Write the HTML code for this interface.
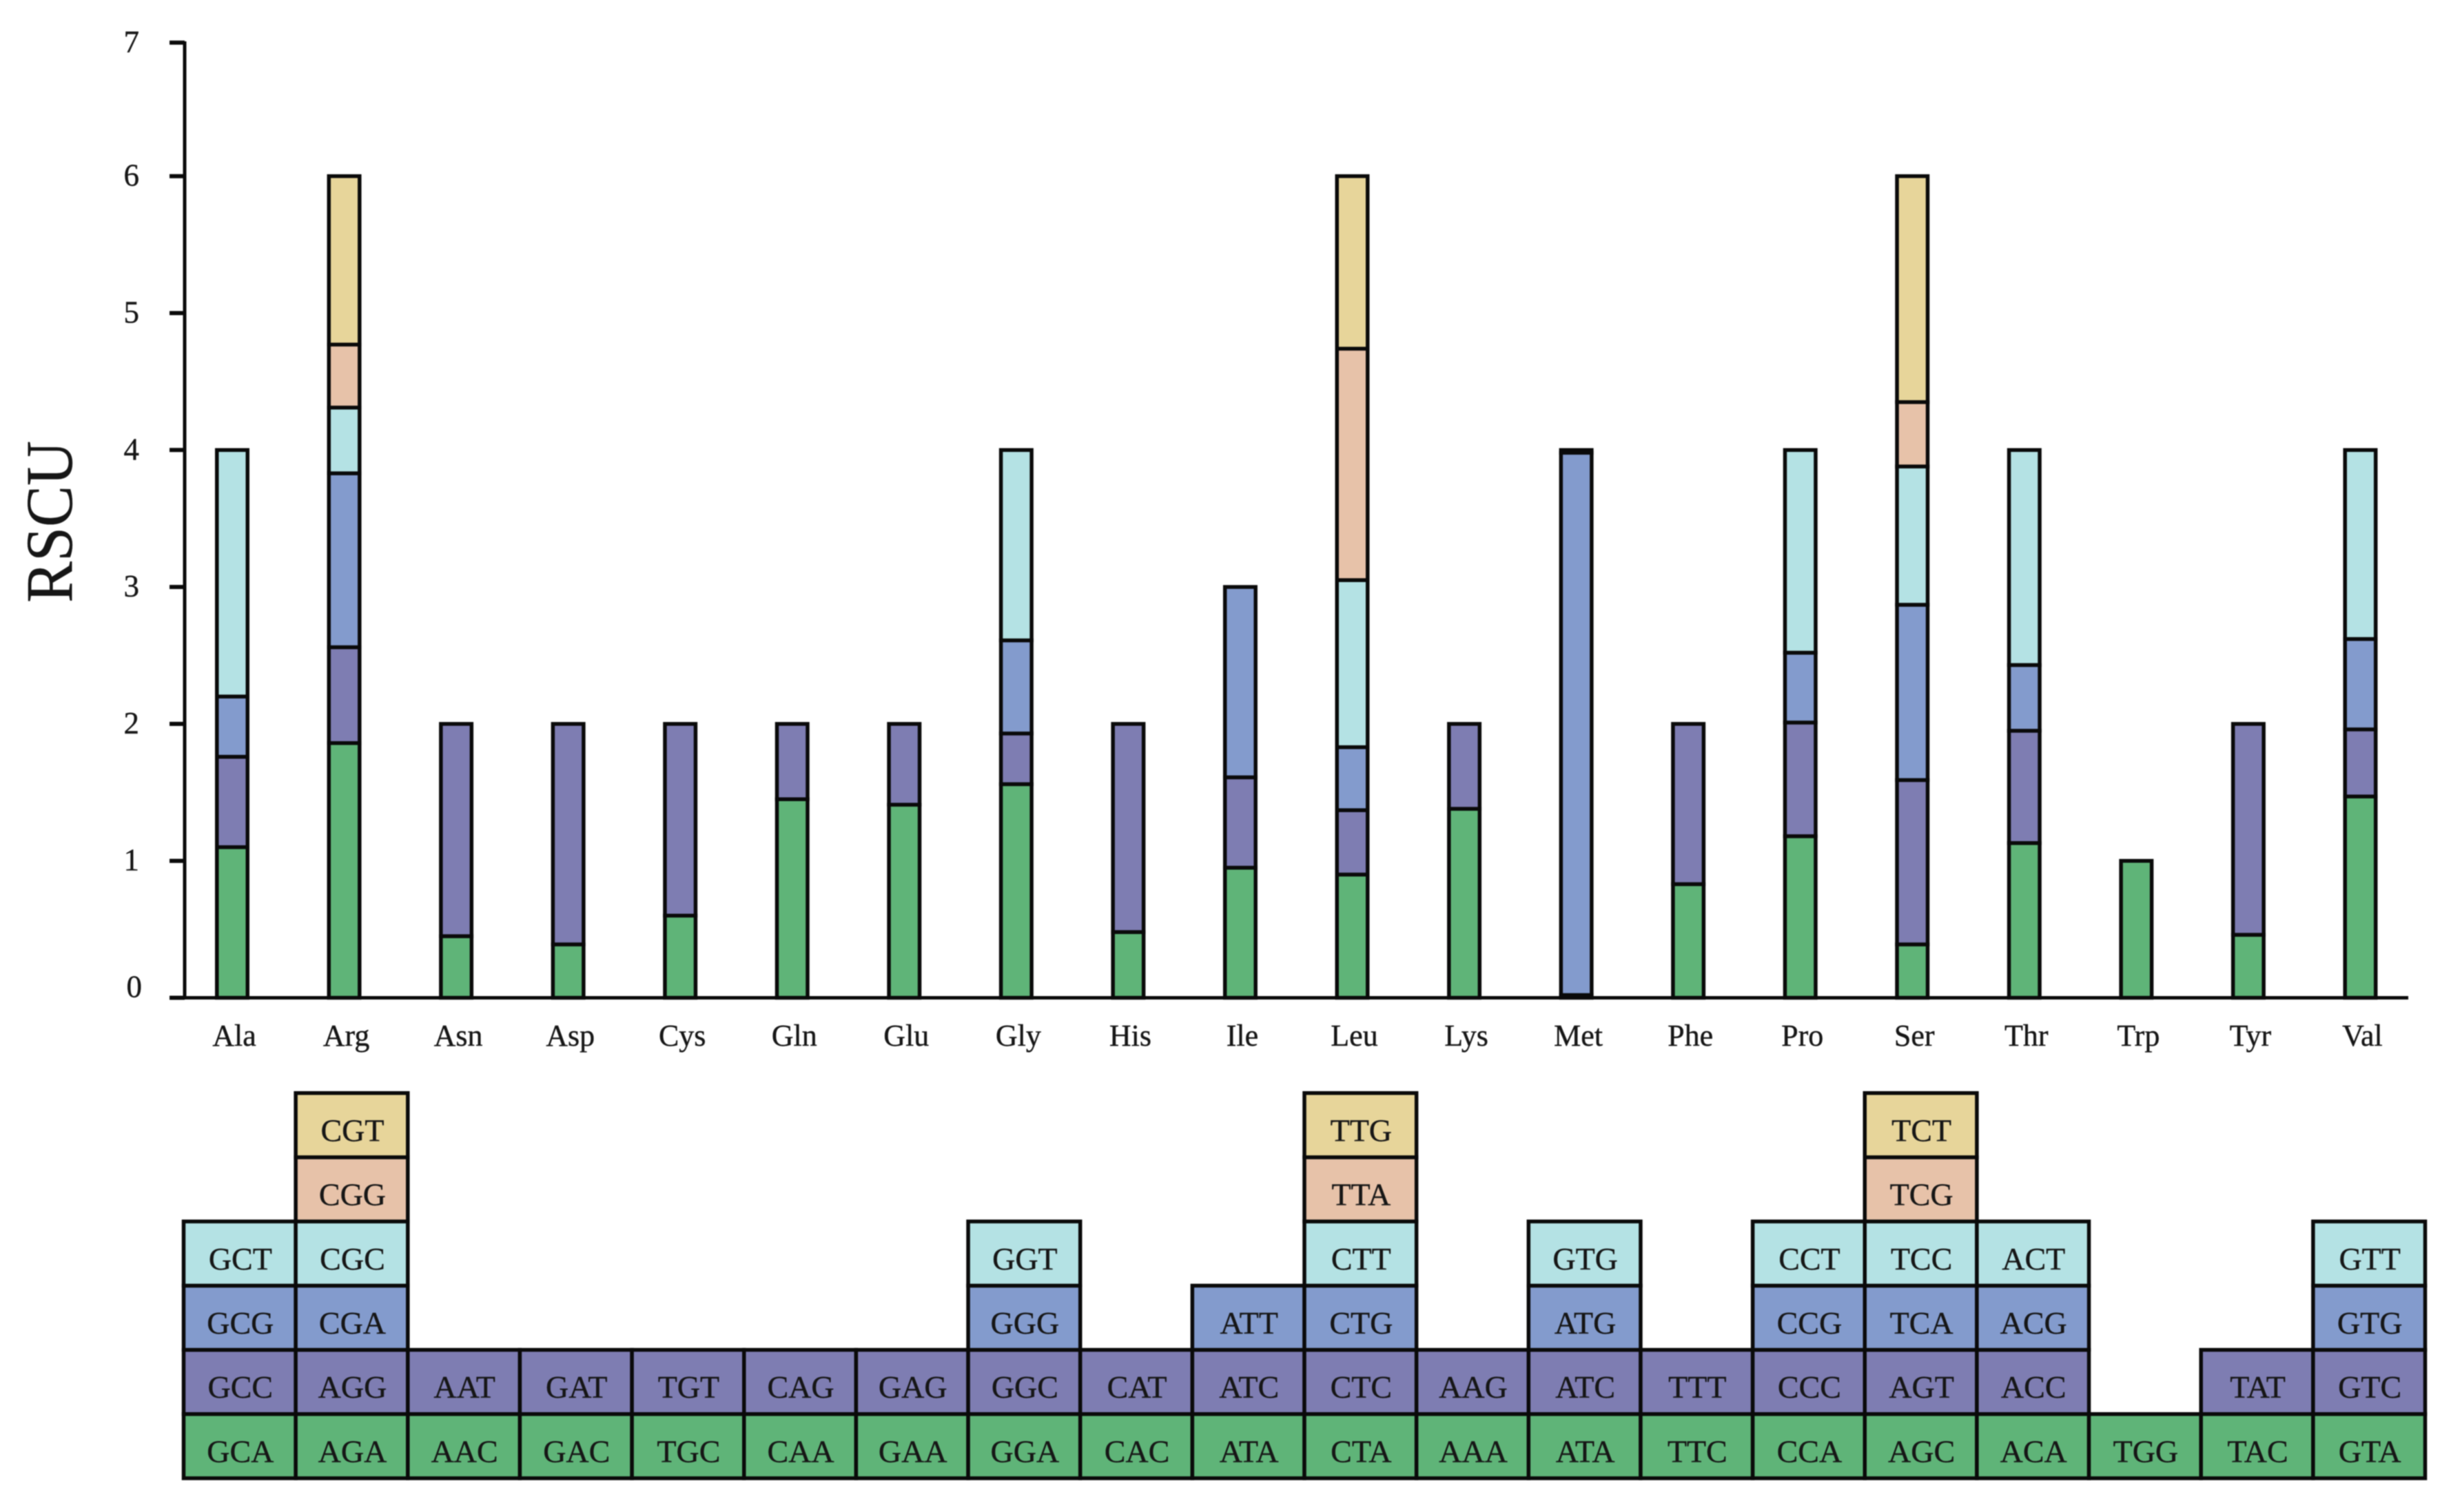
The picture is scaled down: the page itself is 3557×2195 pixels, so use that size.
<!DOCTYPE html>
<html lang="en">
<head>
<meta charset="utf-8">
<title>RSCU by amino acid</title>
<style>
html,body{margin:0;padding:0;background:#fff;width:3557px;height:2195px;overflow:hidden}
svg{display:block;filter:blur(0.7px)}
text{font-family:"Liberation Serif",serif;fill:#161616;stroke:#161616;stroke-width:0.4}
</style>
</head>
<body>
<svg id="chart" width="3557" height="2195" viewBox="0 0 3557 2195" xmlns="http://www.w3.org/2000/svg">
  <rect width="3557" height="2195" fill="#fff"/>
  <g id="bars"></g>
  <g id="axes"></g>
  <g id="table"></g>
  <text transform="translate(104,875) rotate(-90)" font-size="96" textLength="235" lengthAdjust="spacingAndGlyphs">RSCU</text>
</svg>
<script>
const categories = ["Ala","Arg","Asn","Asp","Cys","Gln","Glu","Gly","His","Ile","Leu","Lys","Met","Phe","Pro","Ser","Thr","Trp","Tyr","Val"];
const yTicks = [0,1,2,3,4,5,6,7];

// RSCU per codon, one array per stack layer (bottom to top), null = no codon in that layer
const rscuLayer1 = [1.10,1.86,0.45,0.39,0.60,1.45,1.41,1.56,0.48,0.95,0.90,1.38,0.02,0.83,1.18,0.39,1.13,1.00,0.46,1.47];
const rscuLayer2 = [0.66,0.70,1.55,1.61,1.40,0.55,0.59,0.37,1.52,0.66,0.47,0.62,0.00,1.17,0.83,1.20,0.82,null,1.54,0.49];
const rscuLayer3 = [0.44,1.27,null,null,null,null,null,0.68,null,1.39,0.46,null,3.96,null,0.51,1.28,0.48,null,null,0.66];
const rscuLayer4 = [1.80,0.48,null,null,null,null,null,1.39,null,null,1.22,null,0.02,null,1.48,1.01,1.57,null,null,1.38];
const rscuLayer5 = [null,0.46,null,null,null,null,null,null,null,null,1.69,null,null,null,null,0.47,null,null,null,null];
const rscuLayer6 = [null,1.23,null,null,null,null,null,null,null,null,1.26,null,null,null,null,1.65,null,null,null,null];

// Codon names, same layering
const codonLayer1 = ["GCA","AGA","AAC","GAC","TGC","CAA","GAA","GGA","CAC","ATA","CTA","AAA","ATA","TTC","CCA","AGC","ACA","TGG","TAC","GTA"];
const codonLayer2 = ["GCC","AGG","AAT","GAT","TGT","CAG","GAG","GGC","CAT","ATC","CTC","AAG","ATC","TTT","CCC","AGT","ACC",null,"TAT","GTC"];
const codonLayer3 = ["GCG","CGA",null,null,null,null,null,"GGG",null,"ATT","CTG",null,"ATG",null,"CCG","TCA","ACG",null,null,"GTG"];
const codonLayer4 = ["GCT","CGC",null,null,null,null,null,"GGT",null,null,"CTT",null,"GTG",null,"CCT","TCC","ACT",null,null,"GTT"];
const codonLayer5 = [null,"CGG",null,null,null,null,null,null,null,null,"TTA",null,null,null,null,"TCG",null,null,null,null];
const codonLayer6 = [null,"CGT",null,null,null,null,null,null,null,null,"TTG",null,null,null,null,"TCT",null,null,null,null];

const rscuLayers = [rscuLayer1,rscuLayer2,rscuLayer3,rscuLayer4,rscuLayer5,rscuLayer6];
const codonLayers = [codonLayer1,codonLayer2,codonLayer3,codonLayer4,codonLayer5,codonLayer6];
const layerColors = ["#5fb478","#7e7db2","#839bcd","#b4e2e4","#e7c2a9","#e7d59a"];

const NS = "http://www.w3.org/2000/svg";
const yZero = 1448.5, yUnit = 198.8;
const xScale = i => 337 + i * 162.55;
const yScale = v => yZero - v * yUnit;
const tableLeft = 266.5, cellW = 162.65, tableBottom = 2146, cellH = 93.2;
const cellX = i => tableLeft + i * cellW;
const cellY = level => tableBottom - (level + 1) * cellH;

function make(tag, attrs, parent, txt) {
  const el = document.createElementNS(NS, tag);
  for (const k in attrs) el.setAttribute(k, attrs[k]);
  if (txt !== undefined) el.textContent = txt;
  parent.appendChild(el);
  return el;
}

const barsG = document.getElementById("bars");
const axesG = document.getElementById("axes");
const tableG = document.getElementById("table");

// Bars
categories.forEach((cat, i) => {
  let sum = 0;
  rscuLayers.forEach((layer, l) => {
    const v = layer[i];
    if (v === null) return;
    const top = yScale(sum + v), bottom = yScale(sum);
    const r = make("rect", {x: xScale(i) - 22.25, y: top, width: 44.5, height: bottom - top, fill: layerColors[l], stroke: "#0a0a0a", "stroke-width": 5.5}, barsG);
    
    
    sum += v;
  });
});

// Axes
const yAxisLine = make("line", {x1: 268, y1: 60, x2: 268, y2: 1451, stroke: "#0a0a0a", "stroke-width": 5}, axesG);


const xAxisLine = make("line", {x1: 248, y1: yZero, x2: 3495, y2: yZero, stroke: "#0a0a0a", "stroke-width": 5}, axesG);



yTicks.forEach(v => {
  const ty = yScale(v) + (v === 7 ? 5 : 0);
  const tick = make("line", {x1: 246, y1: ty, x2: 268, y2: ty, stroke: "#0a0a0a", "stroke-width": 6}, axesG);
  
  
  const lab = make("text", {x: v === 0 ? 206 : 202, y: v === 0 ? ty - 1 : ty + 14, "font-size": 45, "text-anchor": "end"}, axesG, String(v));
  
  
});

categories.forEach((cat, i) => {
  const lab = make("text", {x: xScale(i) + 3, y: 1518, "font-size": 44, "text-anchor": "middle"}, axesG, cat);
  
  
});

// Codon table
categories.forEach((cat, i) => {
  codonLayers.forEach((layer, l) => {
    const c = layer[i];
    if (c === null) return;
    const cell = make("rect", {x: cellX(i), y: cellY(l), width: cellW, height: cellH, fill: layerColors[l], stroke: "#0a0a0a", "stroke-width": 5.5}, tableG);
    
    
  });
});
categories.forEach((cat, i) => {
  codonLayers.forEach((layer, l) => {
    const c = layer[i];
    if (c === null) return;
    const t = make("text", {x: cellX(i) + cellW / 2 + 1, y: cellY(l) + cellH / 2 + 23, "font-size": 46, "text-anchor": "middle"}, tableG, c);
    
    
  });
});
</script>
</body>
</html>
